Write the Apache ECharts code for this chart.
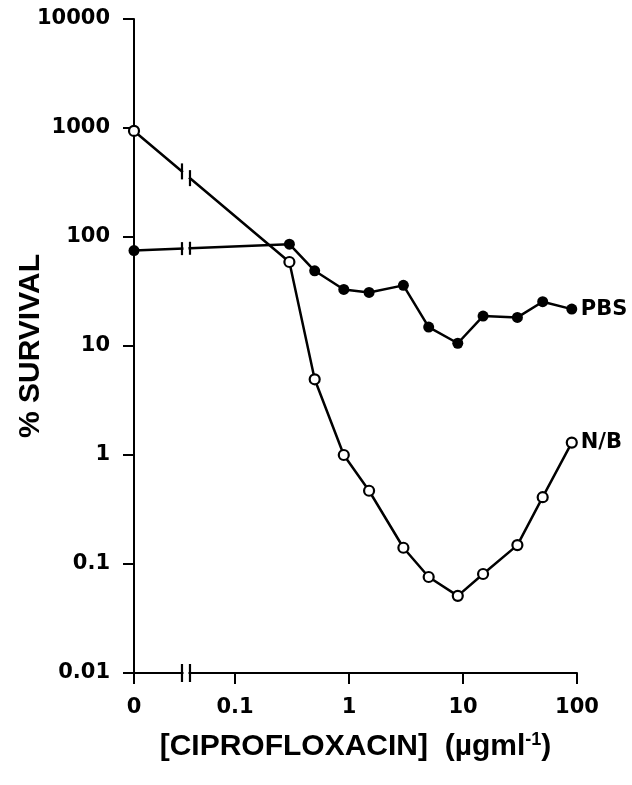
<!DOCTYPE html>
<html>
<head>
<meta charset="utf-8">
<script src="https://cdn.jsdelivr.net/npm/echarts@6/dist/echarts.min.js"></script>
<style>
html,body{margin:0;padding:0;background:#fff;}
#chart{width:632px;height:785px;}
</style>
</head>
<body>
<div id="chart"></div>
<script>
// ---- data ----
const concentrations = [0, 0.3, 0.5, 0.9, 1.5, 3, 5, 9, 15, 30, 50, 90];
const nbSurvival  = [940, 59, 4.95, 1.0, 0.47, 0.141, 0.076, 0.051, 0.081, 0.149, 0.41, 1.30];
const pbsSurvival = [75, 86, 49, 33, 31, 36, 14.9, 10.6, 18.8, 18.3, 25.5, 21.8];
const xTickValues = [0, 0.1, 1, 10, 100];
const xTickLabels = ['0', '0.1', '1', '10', '100'];
const yTickLabels = ['0.01', '0.1', '1', '10', '100', '1000', '10000'];
const seriesNames = ['N/B', 'PBS'];

// axis position (log10 units) used for zero concentration, and for the axis break
const ZERO_POS = -1.886;
const BREAK_POS = -1.43;
const tx = c => c === 0 ? ZERO_POS : Math.log10(c);

const nbData = concentrations.map((c, i) => [tx(c), nbSurvival[i]]);
const pbsData = concentrations.map((c, i) => [tx(c), pbsSurvival[i]]);
const xTickPos = xTickValues.map(tx);

const TICK_FONT = '"DejaVu Sans", sans-serif';
const TITLE_FONT = '"Liberation Sans", Arial, sans-serif';

const chart = echarts.init(document.getElementById('chart'), null, {renderer: 'canvas'});

function breakItem(params, api) {
  const kind = api.value(2);
  const bx = api.coord([api.value(0), 1])[0];
  const xa = bx - 4, xb = bx + 4;
  let ya, yb, h;
  if (kind === 2) {
    const y = api.coord([ZERO_POS, 0.01])[1];
    ya = y; yb = y; h = 18;
  } else {
    const ys = kind === 0 ? nbSurvival : pbsSurvival;
    const p0 = api.coord([tx(concentrations[0]), ys[0]]);
    const p1 = api.coord([tx(concentrations[1]), ys[1]]);
    const f = x => p0[1] + (p1[1] - p0[1]) * (x - p0[0]) / (p1[0] - p0[0]);
    ya = f(xa); yb = f(xb); h = kind === 0 ? 16 : 13;
  }
  return {
    type: 'group',
    children: [
      {type: 'line', shape: {x1: xa + 1.5, y1: ya, x2: xb - 1.5, y2: yb}, style: {stroke: '#fff', lineWidth: 7}},
      {type: 'line', shape: {x1: xa, y1: ya - h / 2, x2: xa, y2: ya + h / 2}, style: {stroke: '#000', lineWidth: 2.2}},
      {type: 'line', shape: {x1: xb, y1: yb - h / 2, x2: xb, y2: yb + h / 2}, style: {stroke: '#000', lineWidth: 2.2}}
    ]
  };
}

const option = {
  backgroundColor: '#fff',
  animation: false,
  grid: {left: 134, right: 55, top: 19, bottom: 112, outerBoundsMode: 'none', containLabel: false},
  xAxis: {
    type: 'value',
    min: ZERO_POS,
    max: 2,
    name: '[CIPROFLOXACIN]  (µgml{sup|-1})',
    nameLocation: 'middle',
    nameGap: 58,
    nameMoveOverlap: false,
    nameTextStyle: {
      color: '#000', fontFamily: TITLE_FONT, fontWeight: 'bold', fontSize: 30,
      rich: {
        sup: {fontFamily: TITLE_FONT, fontWeight: 'bold', fontSize: 18, color: '#000', verticalAlign: 'top', padding: [0, 0, 14, 0]}
      }
    },
    axisLine: {show: true, onZero: false, lineStyle: {color: '#000', width: 2}},
    axisTick: {show: true, inside: false, length: 11, lineStyle: {color: '#000', width: 2}, customValues: xTickPos},
    axisLabel: {
      show: true, margin: 24, color: '#000', fontFamily: TICK_FONT, fontWeight: 'bold', fontSize: 21,
      customValues: xTickPos,
      formatter: v => {
        let best = 0;
        xTickPos.forEach((p, i) => { if (Math.abs(p - v) < Math.abs(xTickPos[best] - v)) best = i; });
        return xTickLabels[best];
      }
    },
    splitLine: {show: false}
  },
  yAxis: {
    type: 'log',
    logBase: 10,
    min: 0.01,
    max: 10000,
    name: '% SURVIVAL',
    nameLocation: 'middle',
    nameRotate: 90,
    nameGap: 88,
    nameMoveOverlap: false,
    nameTextStyle: {color: '#000', fontFamily: TITLE_FONT, fontWeight: 'bold', fontSize: 30},
    axisLine: {show: true, onZero: false, lineStyle: {color: '#000', width: 2}},
    axisTick: {show: true, inside: false, length: 11, lineStyle: {color: '#000', width: 2}},
    axisLabel: {
      show: true, margin: 24, color: '#000', fontFamily: TICK_FONT, fontWeight: 'bold', fontSize: 21,
      formatter: v => yTickLabels[Math.round(Math.log10(v)) + 2]
    },
    splitLine: {show: false},
    minorTick: {show: false}
  },
  series: [
    {
      name: seriesNames[0],
      type: 'line',
      data: nbData,
      symbol: 'circle',
      symbolSize: 10,
      z: 3,
      lineStyle: {color: '#000', width: 2.5},
      itemStyle: {color: '#fff', borderColor: '#000', borderWidth: 2.2},
      endLabel: {show: true, formatter: seriesNames[0], distance: 9, color: '#000', fontFamily: TICK_FONT, fontWeight: 'bold', fontSize: 21},
      emphasis: {disabled: true}
    },
    {
      name: seriesNames[1],
      type: 'line',
      data: pbsData,
      symbol: 'circle',
      symbolSize: 11,
      z: 3,
      lineStyle: {color: '#000', width: 2.5},
      itemStyle: {color: '#000', borderColor: '#000', borderWidth: 0},
      endLabel: {show: true, formatter: seriesNames[1], distance: 9, color: '#000', fontFamily: TICK_FONT, fontWeight: 'bold', fontSize: 21},
      emphasis: {disabled: true}
    },
    {
      type: 'custom',
      z: 5,
      silent: true,
      renderItem: breakItem,
      encode: {x: 0, y: 1},
      data: [[BREAK_POS, 1, 0], [BREAK_POS, 1, 1], [BREAK_POS, 1, 2]]
    }
  ]
};
chart.setOption(option);
</script>
</body>
</html>
